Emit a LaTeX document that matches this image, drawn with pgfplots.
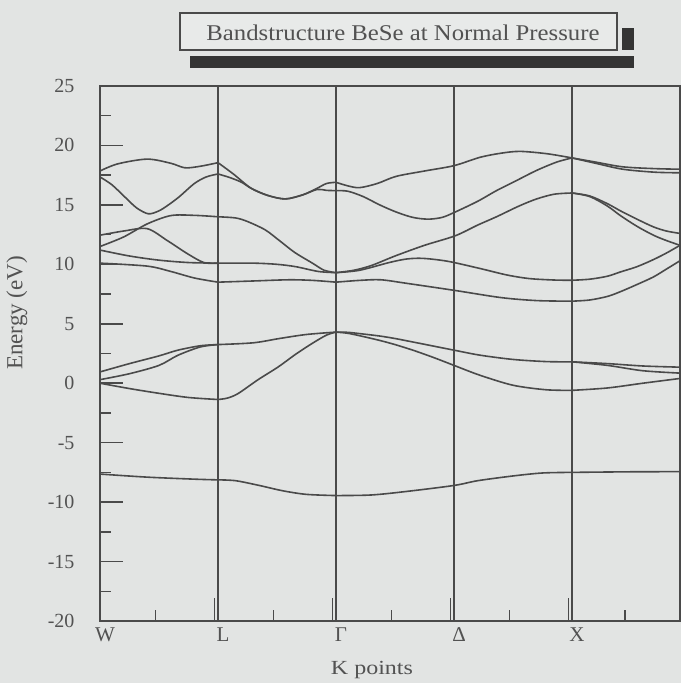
\documentclass[border=0pt]{standalone}
\usepackage{pgfplots}
\pgfplotsset{compat=1.18}
\usepackage{fontspec}
\setmainfont{Liberation Serif}
\newfontfamily\wfont[FakeStretch=1.1]{Liberation Serif}
\newfontfamily\kfont[FakeStretch=1.2]{Liberation Serif}
\definecolor{bg}{RGB}{226,228,227}
\definecolor{boxbg}{RGB}{232,234,233}
\definecolor{lc}{RGB}{74,74,74}
\definecolor{tc}{RGB}{82,82,82}
\definecolor{sh}{RGB}{52,52,52}
\pgfplotsset{b/.style={smooth, lc, line width=1.6pt, no markers}}
\begin{document}
\begin{tikzpicture}
\fill[bg] (-100pt,-62pt) rectangle (581pt,621pt);
\begin{axis}[
  scale only axis, width=580pt, height=535pt,
  xmin=0, xmax=4.915, ymin=-20, ymax=25,
  axis line style={lc, line width=1.5pt},
  every tick/.style={lc, line width=1.5pt},
  tick align=inside, xtick pos=bottom, ytick pos=left,
  major tick length=23pt, minor tick length=11pt,
  ytick={-20,-15,-10,-5,0,5,10,15,20,25},
  yticklabels={-20,-15,-10,-5,0,5,10,15,20,25},
  minor ytick={-17.5,-12.5,-7.5,-2.5,2.5,7.5,12.5,17.5,22.5},
  xtick={0.97,1.97,2.97,3.97}, xticklabels={},
  minor xtick={0.47,1.47,2.47,3.47,4.45},
  extra x ticks={0,1,2,3,4},
  extra x tick labels={W,L,Γ,Δ,X},
  extra x tick style={major tick length=0pt, xticklabel style={xshift=5pt, yshift=-3pt}},
  yticklabel style={font=\fontsize{20}{24}\selectfont, text=tc, xshift=-22pt},
  xticklabel style={font=\fontsize{21}{25}\selectfont, text=tc},
  clip=false,
]
% vertical symmetry lines
\draw[lc, line width=1.5pt] (axis cs:1,-20) -- (axis cs:1,25);
\draw[lc, line width=1.5pt] (axis cs:2,-20) -- (axis cs:2,25);
\draw[lc, line width=1.5pt] (axis cs:3,-20) -- (axis cs:3,25);
\draw[lc, line width=1.5pt] (axis cs:4,-20) -- (axis cs:4,25);
% ---------- W - L ----------
\addplot[b] coordinates {(0,17.85) (0.15,18.45) (0.4,18.85) (0.6,18.5) (0.72,18.12) (0.85,18.25) (1,18.55)};
\addplot[b] coordinates {(0,17.35) (0.1,16.7) (0.21,15.67) (0.31,14.75) (0.41,14.25) (0.5,14.5) (0.58,15.0) (0.67,15.67) (0.8,16.8) (0.9,17.35) (1,17.6)};
\addplot[b] coordinates {(0,11.5) (0.2,12.3) (0.4,13.4) (0.6,14.1) (0.8,14.12) (1,14.0)};
\addplot[b] coordinates {(0,12.45) (0.2,12.8) (0.4,13.0) (0.57,12.0) (0.74,10.9) (0.88,10.15) (1,10.1)};
\addplot[b] coordinates {(0,11.2) (0.25,10.7) (0.5,10.35) (0.75,10.15) (1,10.1)};
\addplot[b] coordinates {(0,10.1) (0.4,9.85) (0.6,9.4) (0.8,8.85) (1,8.5)};
\addplot[b] coordinates {(0,0.95) (0.25,1.65) (0.5,2.3) (0.66,2.78) (0.85,3.15) (1,3.25)};
\addplot[b] coordinates {(0,0.3) (0.25,0.8) (0.5,1.5) (0.66,2.35) (0.85,3.05) (1,3.25)};
\addplot[b] coordinates {(0,0.0) (0.25,-0.45) (0.5,-0.85) (0.75,-1.2) (1,-1.37)};
\addplot[b] coordinates {(0,-7.64) (0.4,-7.9) (0.8,-8.07) (1,-8.13)};
% ---------- L - Gamma ----------
\addplot[b] coordinates {(1,18.55) (1.13,17.6) (1.28,16.4) (1.42,15.8) (1.57,15.5) (1.72,15.85) (1.84,16.4) (1.92,16.8) (2,16.9)};
\addplot[b] coordinates {(1,17.6) (1.1,17.3) (1.2,16.9) (1.28,16.4) (1.42,15.8) (1.57,15.5) (1.72,15.85) (1.84,16.3) (1.92,16.22) (2,16.2)};
\addplot[b] coordinates {(1,14.0) (1.15,13.9) (1.25,13.6) (1.4,12.9) (1.52,12.0) (1.65,11.0) (1.8,10.1) (1.9,9.5) (2,9.3)};
\addplot[b] coordinates {(1,10.1) (1.3,10.1) (1.5,10.0) (1.66,9.8) (1.85,9.4) (2,9.3)};
\addplot[b] coordinates {(1,8.5) (1.3,8.6) (1.6,8.7) (1.8,8.65) (2,8.5)};
\addplot[b] coordinates {(1,3.25) (1.3,3.4) (1.52,3.76) (1.75,4.1) (2,4.3)};
\addplot[b] coordinates {(1,-1.37) (1.08,-1.25) (1.17,-0.87) (1.34,0.3) (1.51,1.37) (1.66,2.45) (1.8,3.36) (1.92,4.05) (2,4.3)};
\addplot[b] coordinates {(1,-8.13) (1.15,-8.2) (1.35,-8.6) (1.55,-9.05) (1.75,-9.35) (2,-9.45)};
% ---------- Gamma - X ----------
\addplot[b] coordinates {(2,16.9) (2.1,16.6) (2.2,16.45) (2.35,16.8) (2.51,17.4) (2.75,17.85) (3,18.3) (3.22,19.0) (3.4,19.35) (3.56,19.5) (3.79,19.3) (4,18.95)};
\addplot[b] coordinates {(2,16.2) (2.1,16.15) (2.23,15.7) (2.37,15.0) (2.51,14.4) (2.65,13.95) (2.78,13.8) (2.9,13.95) (3.01,14.4) (3.2,15.3) (3.36,16.2) (3.53,17.05) (3.7,17.9) (3.87,18.6) (4,18.95)};
\addplot[b] coordinates {(2,9.3) (2.15,9.5) (2.3,9.9) (2.5,10.7) (2.75,11.6) (3.01,12.4) (3.2,13.3) (3.36,14.0) (3.55,14.9) (3.7,15.5) (3.85,15.9) (4,16.0)};
\addplot[b] coordinates {(2,9.3) (2.2,9.5) (2.45,10.15) (2.6,10.45) (2.74,10.5) (2.95,10.25) (3.22,9.65) (3.45,9.1) (3.64,8.8) (3.85,8.68) (4,8.66)};
\addplot[b] coordinates {(2,8.5) (2.2,8.65) (2.38,8.7) (2.6,8.4) (3.01,7.8) (3.4,7.2) (3.7,6.95) (4,6.9)};
\addplot[b] coordinates {(2,4.3) (2.1,4.28) (2.22,4.15) (2.37,3.97) (2.5,3.76) (2.66,3.45) (3,2.78) (3.22,2.36) (3.5,2.0) (3.78,1.82) (4,1.8)};
\addplot[b] coordinates {(2,4.3) (2.1,4.2) (2.22,3.95) (2.37,3.6) (2.5,3.25) (2.66,2.75) (2.83,2.15) (3,1.5) (3.22,0.67) (3.5,-0.17) (3.78,-0.55) (4,-0.6)};
\addplot[b] coordinates {(2,-9.45) (2.3,-9.4) (2.6,-9.1) (3,-8.6) (3.2,-8.2) (3.5,-7.8) (3.75,-7.55) (4,-7.5)};
% ---------- X - end ----------
\addplot[b] coordinates {(4,18.95) (4.2,18.6) (4.43,18.2) (4.7,18.05) (4.915,18.0)};
\addplot[b] coordinates {(4,18.95) (4.2,18.5) (4.43,18.0) (4.7,17.75) (4.915,17.7)};
\addplot[b] coordinates {(4,16.0) (4.15,15.75) (4.3,15.1) (4.41,14.5) (4.55,13.8) (4.69,13.15) (4.8,12.8) (4.915,12.6)};
\addplot[b] coordinates {(4,16.0) (4.15,15.7) (4.3,14.9) (4.41,14.1) (4.55,13.2) (4.69,12.45) (4.8,12.0) (4.915,11.6)};
\addplot[b] coordinates {(4,8.66) (4.15,8.75) (4.3,9.0) (4.41,9.36) (4.55,9.8) (4.69,10.4) (4.8,10.95) (4.915,11.6)};
\addplot[b] coordinates {(4,6.9) (4.15,7.0) (4.3,7.3) (4.41,7.7) (4.55,8.3) (4.69,8.94) (4.8,9.6) (4.915,10.3)};
\addplot[b] coordinates {(4,1.8) (4.3,1.65) (4.6,1.45) (4.915,1.35)};
\addplot[b] coordinates {(4,1.8) (4.3,1.5) (4.6,1.05) (4.915,0.85)};
\addplot[b] coordinates {(4,-0.6) (4.3,-0.4) (4.6,0.0) (4.915,0.4)};
\addplot[b] coordinates {(4,-7.5) (4.5,-7.45) (4.915,-7.44)};
\end{axis}
% title box with shadow
\fill[sh] (90pt,553pt) rectangle (534pt,565pt);
\fill[sh] (522pt,571pt) rectangle (534pt,593pt);
\draw[lc, line width=1.5pt, fill=boxbg] (80pt,571pt) rectangle (517pt,608pt);
\node[text=tc, font=\wfont\fontsize{22.5}{26}\selectfont] at (303pt,588pt) {Bandstructure BeSe at Normal Pressure};
% axis labels
\node[rotate=90, text=tc, font=\fontsize{23}{27}\selectfont] at (-83pt,308pt) {Energy (eV)};
\node[text=tc, font=\kfont\fontsize{20}{24}\selectfont] at (272pt,-49pt) {K points};
\end{tikzpicture}
\end{document}
